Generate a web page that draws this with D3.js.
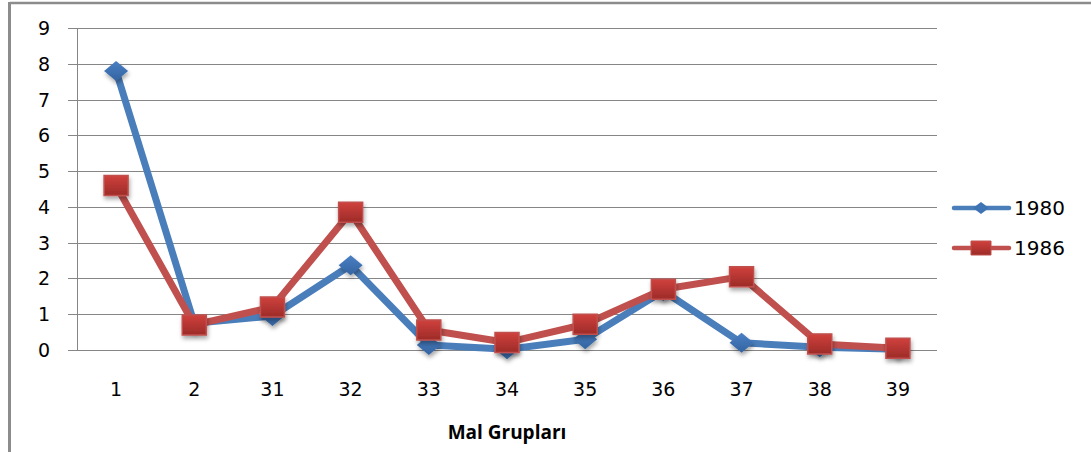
<!DOCTYPE html>
<html>
<head>
<meta charset="utf-8">
<script src="https://cdn.jsdelivr.net/npm/d3@7"></script>
<style>
  body { margin: 0; background: #fff; }
  text { font-family: "DejaVu Sans", Verdana, sans-serif; fill: #000; }
</style>
</head>
<body>
<svg id="chart" width="1091" height="452"></svg>
<script>
// categories on the x axis (Mal Grupları)
var groups = ["1", "2", "31", "32", "33", "34", "35", "36", "37", "38", "39"];
var yTicks = [0, 1, 2, 3, 4, 5, 6, 7, 8, 9];
var values1980 = [7.8, 0.75, 0.95, 2.37, 0.14, 0.02, 0.3, 1.65, 0.2, 0.08, 0.02];
var values1986 = [4.6, 0.7, 1.2, 3.85, 0.56, 0.21, 0.72, 1.7, 2.05, 0.17, 0.05];
var seriesNames = ["1980", "1986"];

var svg = d3.select("#chart");
var plotL = 77, plotR = 937, plotT = 28, plotB = 350;

var x = d3.scaleBand().domain(groups).range([plotL, plotR]);
var y = d3.scaleLinear().domain([0, 9]).range([plotB, plotT]);
var cx = function(i){ return x(groups[i]) + x.bandwidth() / 2; };

var defs = svg.append("defs");
var f = defs.append("filter").attr("id", "shadow").attr("x", "-50%").attr("y", "-50%").attr("width", "200%").attr("height", "200%");
f.append("feDropShadow").attr("dx", 1).attr("dy", 3).attr("stdDeviation", 2).attr("flood-color", "#000").attr("flood-opacity", 0.35);
var g1 = defs.append("linearGradient").attr("id", "redgrad").attr("x1", 0).attr("y1", 0).attr("x2", 0).attr("y2", 1);
g1.append("stop").attr("offset", "0%").attr("stop-color", "#d0413d");
g1.append("stop").attr("offset", "100%").attr("stop-color", "#9c2b28");
var g2 = defs.append("linearGradient").attr("id", "bluegrad").attr("x1", 0).attr("y1", 0).attr("x2", 0).attr("y2", 1);
g2.append("stop").attr("offset", "0%").attr("stop-color", "#4a80c4");
g2.append("stop").attr("offset", "100%").attr("stop-color", "#3463a0");

// frame
svg.append("line").attr("x1", 10).attr("x2", 1091).attr("y1", 3).attr("y2", 3)
  .attr("stroke", "#8c8c8c").attr("stroke-width", 2.5);
svg.append("line").attr("x1", 9.5).attr("x2", 9.5).attr("y1", 2).attr("y2", 452)
  .attr("stroke", "#8c8c8c").attr("stroke-width", 3);

// gridlines + y ticks
svg.append("g").selectAll("line").data(yTicks).enter().append("line")
  .attr("x1", 68).attr("x2", plotR)
  .attr("y1", function(d){ return Math.round(y(d)) + 0.5; })
  .attr("y2", function(d){ return Math.round(y(d)) + 0.5; })
  .attr("stroke", "#868686").attr("stroke-width", 1);
svg.append("line").attr("x1", plotL + 0.5).attr("x2", plotL + 0.5).attr("y1", plotT).attr("y2", plotB + 0.5)
  .attr("stroke", "#868686");

svg.append("g").selectAll("text").data(yTicks).enter().append("text")
  .attr("x", 44).attr("y", function(d){ return y(d) + 7; })
  .attr("text-anchor", "middle").style("font-size", "19px")
  .text(function(d){ return d; });

svg.append("g").selectAll("text").data(groups).enter().append("text")
  .attr("x", function(d, i){ return cx(i); })
  .attr("y", 396).attr("text-anchor", "middle").style("font-size", "19px")
  .text(function(d){ return d; });

svg.append("text").attr("x", 507).attr("y", 439).attr("text-anchor", "middle")
  .style("font-size", "19px").style("font-weight", "bold").style("font-family", "'Open Sans', sans-serif")
  .text("Mal Grupları");

var line = d3.line()
  .x(function(d, i){ return cx(i); })
  .y(function(d){ return y(d); });

function diamond(sel){
  sel.attr("d", "M0,-10 L12,0 L0,10 L-12,0 Z").attr("fill", "url(#bluegrad)").attr("filter", "url(#shadow)");
}
function square(sel){
  sel.attr("d", "M-12,-10 H12 V10 H-12 Z").attr("fill", "url(#redgrad)")
    .attr("stroke", "#c0504d").attr("stroke-width", 1.5).attr("filter", "url(#shadow)");
}

// 1980
svg.append("path").datum(values1980).attr("d", line).attr("fill", "none")
  .attr("stroke", "#4a7ebb").attr("stroke-width", 7).attr("stroke-linejoin", "round");
svg.append("g").selectAll("path").data(values1980).enter().append("path")
  .attr("transform", function(d, i){ return "translate(" + cx(i) + "," + y(d) + ")"; })
  .call(diamond);

// 1986
svg.append("path").datum(values1986).attr("d", line).attr("fill", "none")
  .attr("stroke", "#c0504d").attr("stroke-width", 7).attr("stroke-linejoin", "round");
svg.append("g").selectAll("path").data(values1986).enter().append("path")
  .attr("transform", function(d, i){ return "translate(" + cx(i) + "," + y(d) + ")"; })
  .call(square);

// legend
var legend = svg.append("g");
var legY = [208, 248];
legend.append("line").attr("x1", 954).attr("x2", 1009).attr("y1", legY[0]).attr("y2", legY[0])
  .attr("stroke", "#4a7ebb").attr("stroke-width", 4.5).attr("stroke-linecap", "round");
legend.append("path").attr("transform", "translate(981," + legY[0] + ")")
  .attr("d", "M0,-6 L8,0 L0,6 L-8,0 Z").attr("fill", "#3f74b4");
legend.append("line").attr("x1", 954).attr("x2", 1009).attr("y1", legY[1]).attr("y2", legY[1])
  .attr("stroke", "#c0504d").attr("stroke-width", 4.5).attr("stroke-linecap", "round");
legend.append("path").attr("transform", "translate(981," + legY[1] + ")")
  .attr("d", "M-10,-7 H10 V7 H-10 Z").attr("fill", "url(#redgrad)").attr("stroke", "#c0504d");
legend.selectAll("text").data(seriesNames).enter().append("text")
  .attr("x", 1014).attr("y", function(d, i){ return legY[i] + 7; })
  .style("font-size", "20px").text(function(d){ return d; });
</script>
</body>
</html>
